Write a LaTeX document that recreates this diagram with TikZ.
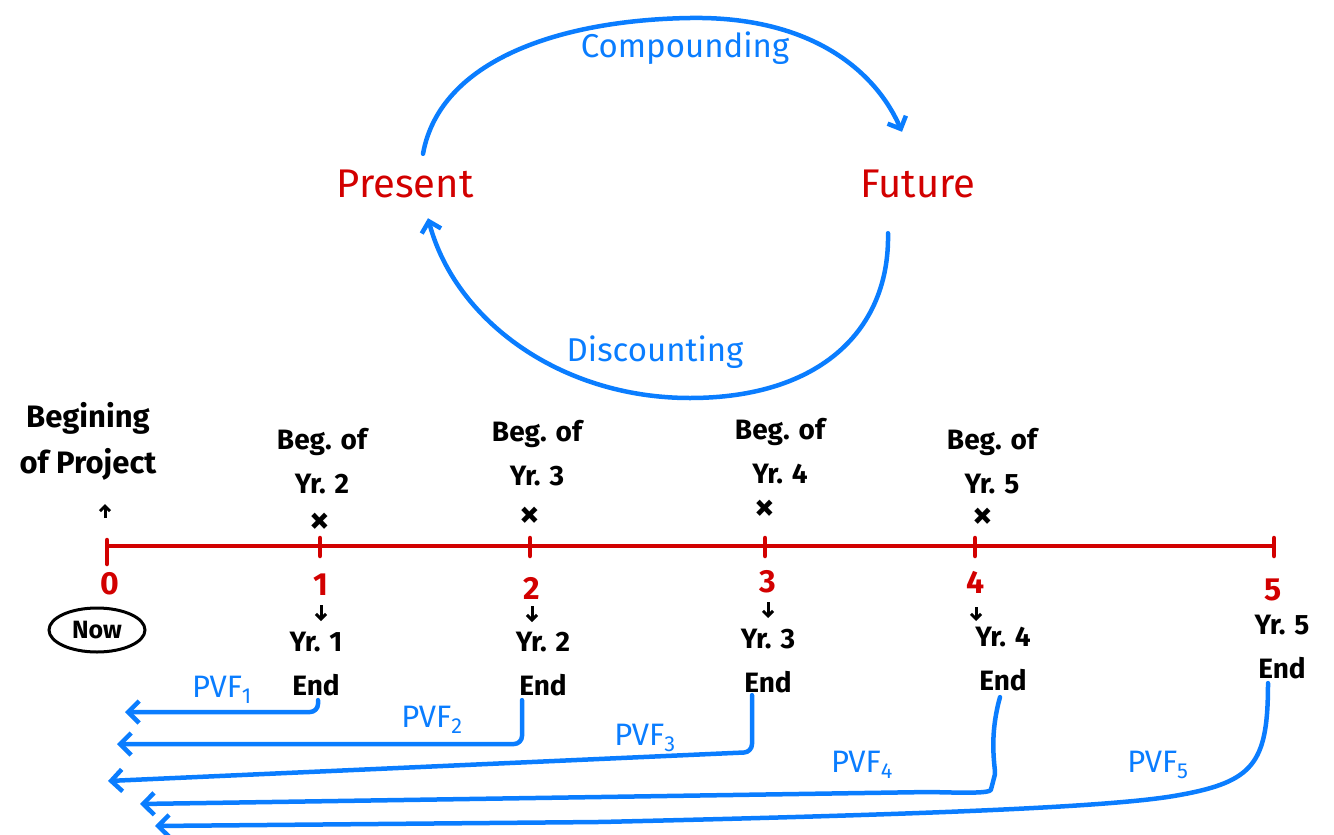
\documentclass[tikz,border=0pt]{standalone}
\usepackage{fontspec}
\setmainfont{Fira Sans}
\usetikzlibrary{arrows.meta,shapes.geometric}
\definecolor{pblue}{RGB}{10,125,255}
\definecolor{pred}{RGB}{210,0,0}
\begin{document}
\begin{tikzpicture}[x=1pt,y=-1pt,
 hand/.style={font=\fontsize{28}{44}\selectfont\bfseries, align=center, inner sep=0pt},
 redtxt/.style={text=pred, font=\fontsize{40}{44}\selectfont, inner sep=0pt},
 bluetxt/.style={text=pblue, font=\fontsize{33}{36}\selectfont, inner sep=0pt},
 pvlab/.style={text=pblue, font=\fontsize{31}{34}\selectfont, inner sep=0pt},
 num/.style={text=pred, font=\fontsize{32}{34}\selectfont\bfseries, inner sep=0pt},
 cyc/.style={draw=pblue, line width=4.5pt, line cap=round, -{Straight Barb[length=10pt,width=20pt]}},
 pv/.style={draw=pblue, line width=4.5pt, line cap=round, line join=round, rounded corners=8pt, -{Straight Barb[length=11pt,width=22pt]}},
 axisline/.style={draw=pred, line width=4.5pt},
 tickmark/.style={draw=pred, line width=4.5pt, line cap=round},
 smallarrow/.style={draw=black, line width=3pt, -{Straight Barb[length=5pt,width=10pt]}},
 xmark/.style={font=\fontsize{40}{40}\selectfont\bfseries, inner sep=0pt}
]
\useasboundingbox (0,0) rectangle (1334,835);

% ---- cycle ----
\node[redtxt] (present) at (405,184) {Present};
\node[redtxt] (future) at (918,184) {Future};
\node[bluetxt] (comp) at (685,48) {Compounding};
\node[bluetxt] (disc) at (655,352) {Discounting};

\draw[cyc] ([xshift=18pt,yshift=16pt]present.north) .. controls (440,60) and (560,20) .. (690,18)
   .. controls (810,16) and (875,70) .. ([xshift=-16pt,yshift=38pt]future.north);
\draw[cyc] ([xshift=-30pt,yshift=-35pt]future.south) .. controls (890,330) and (820,398) .. (690,398)
   .. controls (560,398) and (455,320) .. ([xshift=23pt,yshift=-20pt]present.south);

% ---- timeline ----
\coordinate (t0) at (107,546);
\coordinate (t1) at (320,546);
\coordinate (t2) at (530,546);
\coordinate (t3) at (765,546);
\coordinate (t4) at (975,546);
\coordinate (t5) at (1274,546);
\draw[axisline] (t0) -- (t5);
\draw[tickmark] ([yshift=6pt]t0) -- ([yshift=-18pt]t0);
\foreach \t in {t1,t2,t3,t4,t5}{
  \draw[tickmark] ([yshift=8pt]\t) -- ([yshift=-10pt]\t);
}

\node[num] (n0) at (110,584) {0};
\node[num] (n1) at (321,585) {1};
\node[num] (n2) at (532,588) {2};
\node[num] (n3) at (768,582) {3};
\node[num] (n4) at (976,582) {4};
\node[num] (n5) at (1273,590) {5};

% ---- above ----
\node[hand, font=\fontsize{31}{46}\selectfont\bfseries] (b0) at (88,441) {Begining\\of Project};
\node[hand] (b2) at (322,461) {Beg. of\\Yr. 2};
\node[hand] (b3) at (537,453) {Beg. of\\Yr. 3};
\node[hand] (b4) at (780,451) {Beg. of\\Yr. 4};
\node[hand] (b5) at (992,461) {Beg. of\\Yr. 5};

\coordinate (u0) at (105,518);
\coordinate (u1) at (105,504);
\draw[smallarrow] (u0) -- (u1);
\node[xmark] (x2) at (320,523) {×};
\node[xmark] (x3) at (530,517) {×};
\node[xmark] (x4) at (765,510) {×};
\node[xmark] (x5) at (983,518) {×};

% ---- below ----
\node[draw, ellipse, line width=3pt, font=\fontsize{25}{26}\selectfont\bfseries, inner sep=1pt,
      minimum width=96pt, minimum height=44pt] (now) at (97,630) {Now};

\node[hand] (e1) at (316,664) {Yr. 1\\End};
\node[hand] (e2) at (543,664) {Yr. 2\\End};
\node[hand] (e3) at (768,661) {Yr. 3\\End};
\node[hand] (e4) at (1003,659) {Yr. 4\\End};
\node[hand] (e5) at (1282,647) {Yr. 5\\End};

\draw[smallarrow] (n1) ++(0,20) coordinate (d1a) -- ++(0,16) coordinate (d1b);
\draw[smallarrow] (n2) ++(0,18) coordinate (d2a) -- ++(0,16) coordinate (d2b);
\draw[smallarrow] (n3) ++(0,20) coordinate (d3a) -- ++(0,16) coordinate (d3b);
\draw[smallarrow] (n4) ++(0,25) coordinate (d4a) -- ++(0,14) coordinate (d4b);

% ---- PVF arrows ----
\coordinate (a1) at (125,712);
\coordinate (a2) at (117,744);
\coordinate (a3) at (108,781);
\coordinate (a4) at (140,804);
\coordinate (a5) at (155,826);

\draw[pv] ([xshift=2pt,yshift=-4pt]e1.south) |- (a1);
\draw[pv] ([xshift=-21pt,yshift=-4pt]e2.south) |- (a2);
\draw[pv] ([xshift=-16pt,yshift=-2pt]e3.south) -- ++(0,57) -- (a3);
\draw[pv] ([xshift=-3pt,yshift=-6pt]e4.south) .. controls (988,740) and (996,770) .. (993,782)
   .. controls (990,793) and (970,793) .. (930,792) -- (a4);
\draw[pv] ([xshift=-14pt,yshift=-4pt]e5.south) .. controls (1268,760) and (1255,780) .. (1180,795)
   .. controls (1100,808) and (900,815) .. (600,822) -- (a5);

\node[pvlab] (p1) at (222,690) {PVF\textsubscript{1}};
\node[pvlab] (p2) at (432,720) {PVF\textsubscript{2}};
\node[pvlab] (p3) at (645,738) {PVF\textsubscript{3}};
\node[pvlab] (p4) at (862,765) {PVF\textsubscript{4}};
\node[pvlab] (p5) at (1158,765) {PVF\textsubscript{5}};
\end{tikzpicture}
\end{document}
